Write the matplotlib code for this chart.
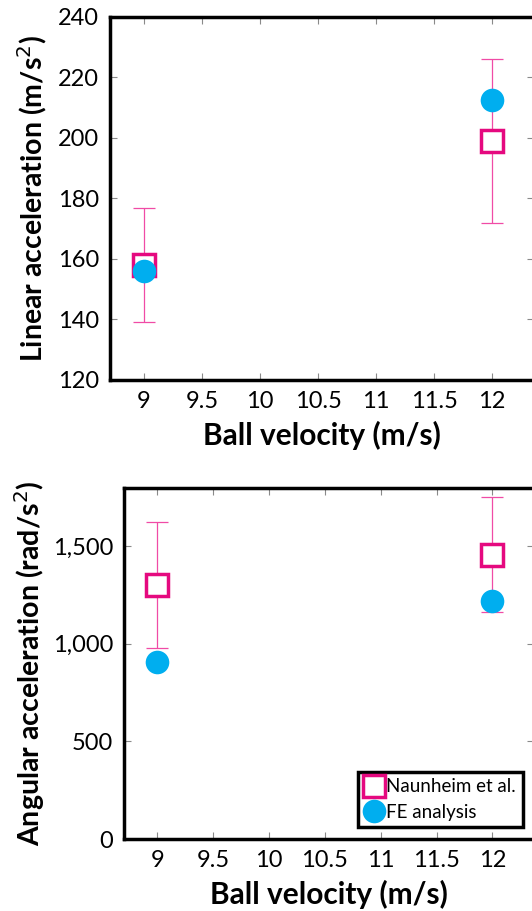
import matplotlib
matplotlib.use("Agg")
import matplotlib.pyplot as plt
from matplotlib.ticker import StrMethodFormatter

plt.rcParams["font.family"] = ["Lato", "DejaVu Sans"]

# ball velocity (m/s)
velocity = [9, 12]

# linear acceleration (m/s^2)
lin_naunheim = [158, 199]
lin_naunheim_lo = [139, 172]
lin_naunheim_hi = [177, 226]
lin_fe = [156, 212.5]

# angular acceleration (rad/s^2)
ang_naunheim = [1300, 1455]
ang_naunheim_lo = [976, 1161]
ang_naunheim_hi = [1625, 1752]
ang_fe = [905, 1219]

xticks = [9, 9.5, 10, 10.5, 11, 11.5, 12]
xticklabels = ["9", "9.5", "10", "10.5", "11", "11.5", "12"]

pink = "#E5097F"
pink_light = "#F04BA6"
cyan = "#00AEEF"

fig = plt.figure(figsize=(5.32, 9.11), dpi=100)
ax1 = fig.add_axes([0.2068, 0.5829, 0.7964, 0.3985])
ax2 = fig.add_axes([0.2331, 0.0790, 0.7701, 0.3850])


def draw(ax, naun, lo, hi, fe):
    yerr = [[n - l for n, l in zip(naun, lo)], [h - n for n, h in zip(naun, hi)]]
    ax.errorbar(velocity, naun, yerr=yerr, fmt="none", ecolor=pink_light,
                elinewidth=0.9, capsize=8, capthick=0.9, zorder=2)
    ax.plot(velocity, naun, "s", ms=16, mfc="white", mec=pink, mew=2.5,
            ls="none", label="Naunheim et al.", zorder=3)
    ax.plot(velocity, fe, "o", ms=17, mfc=cyan, mec=cyan, mew=0,
            ls="none", label="FE analysis", zorder=4)
    ax.set_xticks(xticks)
    ax.set_xticklabels(xticklabels)
    for s in ax.spines.values():
        s.set_linewidth(2.5)
    ax.tick_params(direction="in", length=5, width=0.8, color="#8a8a8a",
                   labelcolor="black", top=True, right=True, labelsize=17, pad=8)
    ax.set_xlabel("Ball velocity (m/s)", fontsize=21.5, fontweight="bold", labelpad=6)


draw(ax1, lin_naunheim, lin_naunheim_lo, lin_naunheim_hi, lin_fe)
ax1.set_xlim(8.707, 12.36)
ax1.set_ylim(120, 240)
ax1.set_yticks([120, 140, 160, 180, 200, 220, 240])
ax1.set_ylabel("Linear acceleration (m/s$^2$)", fontsize=20.5, fontweight="bold", labelpad=6)

draw(ax2, ang_naunheim, ang_naunheim_lo, ang_naunheim_hi, ang_fe)
ax2.set_xlim(8.70, 12.37)
ax2.set_ylim(0, 1795)
ax2.set_yticks([0, 500, 1000, 1500])
ax2.yaxis.set_major_formatter(StrMethodFormatter("{x:,.0f}"))
ax2.set_ylabel("Angular acceleration (rad/s$^2$)", fontsize=20.5, fontweight="bold", labelpad=4)

leg = ax2.legend(loc="lower right", bbox_to_anchor=(0.973, 0.033), borderaxespad=0,
                 fontsize=13.5, frameon=True, fancybox=False, handlelength=1.0,
                 handletextpad=0.15, borderpad=0.35, labelspacing=0.45, markerscale=1.0)
leg.get_frame().set_edgecolor("black")
leg.get_frame().set_linewidth(2.5)
leg.get_frame().set_alpha(1)

fig.savefig("out.png", dpi=100)
